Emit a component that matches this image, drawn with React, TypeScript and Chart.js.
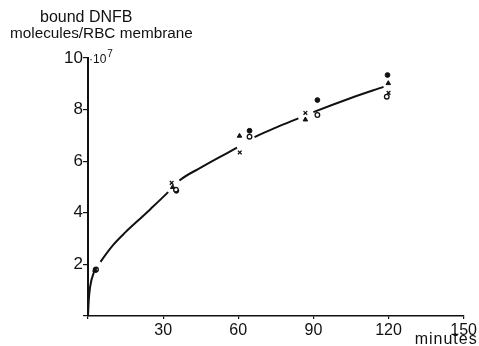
import React, { useEffect, useRef } from "react";
import { Chart, registerables } from "chart.js";

Chart.register(...registerables);

// Fitted curve (minutes, bound molecules ×10^7)
const curveT = [0, 0.3, 0.8, 2.4, 5, 10, 15, 20, 25, 32, 36.5, 45, 59.5, 66.5, 75, 84, 90, 105, 118];
const curveV = [0, 0.6, 1.1, 1.7, 2.1, 2.75, 3.25, 3.7, 4.15, 4.8, 5.25, 5.75, 6.53, 6.93, 7.3, 7.66, 7.9, 8.45, 8.88];
// curve is interrupted after these time points (where the markers sit)
const curveBreaks = [2.4, 32, 59.5, 84];

// Measured points, four symbols
const crossT = [2.8, 33.4, 60.6, 86.8, 120];
const crossV = [1.78, 5.16, 6.34, 7.87, 8.65];
const triT = [2.8, 33.8, 60.5, 86.8, 119.9];
const triV = [1.78, 4.99, 6.98, 7.61, 9.02];
const openT = [3.2, 35.1, 64.5, 91.6, 119.3];
const openV = [1.8, 4.9, 6.95, 7.79, 8.5];
const filledT = [3.0, 35.3, 64.5, 91.6, 119.6];
const filledV = [1.78, 4.85, 7.18, 8.37, 9.34];

const xTicks = [30, 60, 90, 120, 150];
const yTicks = [2, 4, 6, 8, 10];

const titleLine1 = "bound DNFB";
const titleLine2 = "molecules/RBC membrane";
const xUnit = "minutes";

const INK = "#111";

const toPts = (t: number[], v: number[]) => t.map((x, i) => ({ x, y: v[i] }));

const textPlugin = {
  id: "texts",
  afterDraw(chart: any) {
    const ctx = chart.ctx;
    const { left, top, right } = chart.chartArea;
    ctx.save();
    ctx.fillStyle = INK;
    ctx.textBaseline = "alphabetic";
    ctx.textAlign = "left";
    ctx.font = '16px "Liberation Sans", Arial, sans-serif';
    ctx.fillText(titleLine1, 40, 22);
    ctx.font = '15.3px "Liberation Sans", Arial, sans-serif';
    ctx.fillText(titleLine2, 10, 38);
    // exponent next to the top tick
    ctx.font = '12px "Liberation Sans", Arial, sans-serif';
    ctx.fillText("·10", left + 1, top + 5);
    const w = ctx.measureText("·10").width;
    ctx.font = '10px "Liberation Sans", Arial, sans-serif';
    ctx.fillText("7", left + 1 + w + 1, top - 1);
    // x unit
    ctx.font = '16px "Liberation Sans", Arial, sans-serif';
    (ctx as any).letterSpacing = "1px";
    ctx.textAlign = "right";
    ctx.fillText(xUnit, right + 14, 344);
    ctx.restore();
  },
};

export default function App() {
  const ref = useRef<HTMLCanvasElement>(null);

  useEffect(() => {
    document.body.style.margin = "0";
    const canvas = ref.current!;
    const chart = new Chart(canvas, {
      type: "scatter",
      data: {
        datasets: [
          {
            type: "line",
            data: toPts(curveT, curveV),
            borderColor: INK,
            borderWidth: 2,
            pointRadius: 0,
            cubicInterpolationMode: "monotone",
            fill: false,
            segment: {
              borderColor: (c: any) =>
                curveBreaks.includes(curveT[c.p0DataIndex]) ? "rgba(0,0,0,0)" : INK,
            },
          } as any,
          {
            data: toPts(crossT, crossV),
            pointStyle: "crossRot",
            pointRadius: 2.6,
            borderColor: INK,
            borderWidth: 1.3,
            backgroundColor: INK,
          },
          {
            data: toPts(triT, triV),
            pointStyle: "triangle",
            pointRadius: 2.6,
            borderColor: INK,
            borderWidth: 1,
            backgroundColor: INK,
          },
          {
            data: toPts(openT, openV),
            pointStyle: "circle",
            pointRadius: 2.3,
            borderColor: INK,
            borderWidth: 1.3,
            backgroundColor: "#fff",
          },
          {
            data: toPts(filledT, filledV),
            pointStyle: "circle",
            pointRadius: 2.4,
            borderColor: INK,
            borderWidth: 1,
            backgroundColor: INK,
          },
        ],
      },
      options: {
        responsive: false,
        animation: false,
        devicePixelRatio: 1,
        layout: { padding: { top: 58, right: 15, left: 0, bottom: 0 } },
        plugins: { legend: { display: false }, tooltip: { enabled: false } },
        scales: {
          x: {
            type: "linear",
            min: 0,
            max: 150,
            afterBuildTicks: (s: any) => {
              s.ticks = [0, ...xTicks].map((v) => ({ value: v }));
            },
            afterFit: (s: any) => {
              s.height = 30;
            },
            ticks: {
              color: INK,
              font: { family: '"Liberation Sans Narrow", "Liberation Sans", Arial', size: 16 },
              padding: 2,
              maxRotation: 0,
              callback: (v: any) => (v === 0 ? "" : String(v)),
            },
            grid: { display: true, drawOnChartArea: false, drawTicks: true, tickLength: 3, color: INK, lineWidth: 1.2 },
            border: { display: true, color: INK, width: 1.6 },
          },
          y: {
            type: "linear",
            min: 0,
            max: 10,
            afterBuildTicks: (s: any) => {
              s.ticks = [0, ...yTicks].map((v) => ({ value: v }));
            },
            afterFit: (s: any) => {
              s.width = 88;
            },
            ticks: {
              color: INK,
              font: { family: '"Liberation Sans Narrow", "Liberation Sans", Arial', size: 17 },
              padding: 0,
              callback: (v: any) => (v === 0 ? "" : String(v)),
            },
            grid: { display: true, drawOnChartArea: false, drawTicks: true, tickLength: 5, color: INK, lineWidth: 1.2 },
            border: { display: true, color: INK, width: 2 },
          },
        },
      },
      plugins: [textPlugin],
    });
    return () => chart.destroy();
  }, []);

  return (
    <div style={{ position: "absolute", left: 0, top: 0, width: 479, height: 346, background: "#fff" }}>
      <canvas ref={ref} width={479} height={346} />
    </div>
  );
}
